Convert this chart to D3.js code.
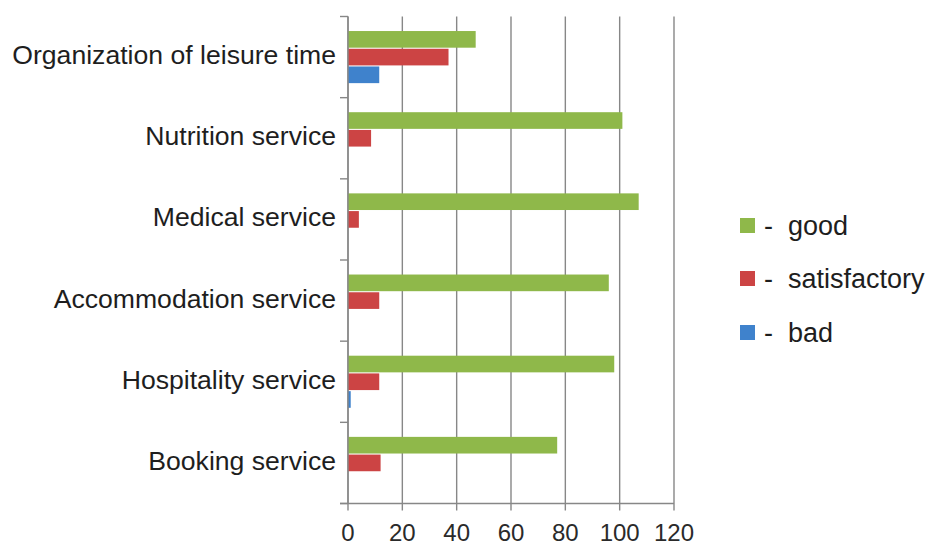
<!DOCTYPE html>
<html>
<head>
<meta charset="utf-8">
<script src="https://cdn.jsdelivr.net/npm/d3@7"></script>
<style>
  html, body { margin: 0; padding: 0; background: #fff; }
  svg { display: block; }
  text { font-family: "Liberation Sans", Arial, sans-serif; }
</style>
</head>
<body>
<svg id="chart" width="934" height="548"></svg>
<script>
// Service categories, top to bottom
const categories = [
  "Organization of leisure time",
  "Nutrition service",
  "Medical service",
  "Accommodation service",
  "Hospitality service",
  "Booking service"
];

// Ratings per category (number of respondents)
const good         = [47, 101, 107, 96, 98, 77];
const satisfactory = [37, 8.5, 4, 11.5, 11.5, 12];
const bad          = [11.5, 0, 0, 0, 1, 0];

const seriesNames  = ["good", "satisfactory", "bad"];
const seriesColors = ["#8fb84a", "#cc4444", "#3f82cc"];
const xTicks       = [0, 20, 40, 60, 80, 100, 120];

const seriesValues = [good, satisfactory, bad];
const rows = categories.map((c, i) => ({
  category: c,
  values: seriesNames.map((s, k) => ({ series: s, value: seriesValues[k][i] }))
}));

const svg = d3.select("#chart");
const plot = { left: 348, right: 674, top: 16.5, bottom: 503.5 };
const gridColor = "#878787";

const x = d3.scaleLinear().domain([0, 120]).range([plot.left, plot.right]);
const y0 = d3.scaleBand().domain(categories).range([plot.top, plot.bottom]).padding(0);
const y1 = d3.scaleBand().domain(seriesNames).range([0, y0.bandwidth()])
  .paddingInner(0.06).paddingOuter(0.82);
const color = d3.scaleOrdinal().domain(seriesNames).range(seriesColors);

// Vertical gridlines, extending a little below the axis as tick marks
svg.append("g").selectAll("line").data(xTicks).join("line")
  .attr("x1", d => x(d)).attr("x2", d => x(d))
  .attr("y1", plot.top).attr("y2", plot.bottom + 7)
  .attr("stroke", gridColor).attr("stroke-width", 1.4);

// Bars
const groups = svg.append("g").selectAll("g").data(rows).join("g")
  .attr("transform", d => `translate(0,${y0(d.category)})`);
groups.selectAll("rect").data(d => d.values).join("rect")
  .attr("x", x(0))
  .attr("y", d => y1(d.series))
  .attr("width", d => x(d.value) - x(0))
  .attr("height", y1.bandwidth())
  .attr("fill", d => color(d.series));

// Category axis (left) with ticks between bands
const yAxis = svg.append("g");
yAxis.append("line")
  .attr("x1", x(0)).attr("x2", x(0))
  .attr("y1", plot.top).attr("y2", plot.bottom)
  .attr("stroke", gridColor).attr("stroke-width", 1.4);
const boundaries = categories.map(c => y0(c)).concat([plot.bottom]);
yAxis.selectAll("line.tick").data(boundaries).join("line")
  .attr("class", "tick")
  .attr("x1", x(0) - 8).attr("x2", x(0))
  .attr("y1", d => d).attr("y2", d => d)
  .attr("stroke", gridColor).attr("stroke-width", 1.4);
yAxis.selectAll("text").data(categories).join("text")
  .attr("x", 336)
  .attr("y", d => y0(d) + y0.bandwidth() / 2 + 7)
  .attr("text-anchor", "end")
  .attr("font-size", 26.6)
  .attr("fill", "#1e1e1e")
  .text(d => d);

// Value axis (bottom)
svg.append("line")
  .attr("x1", x(0) - 8).attr("x2", x(120))
  .attr("y1", plot.bottom).attr("y2", plot.bottom)
  .attr("stroke", gridColor).attr("stroke-width", 1.4);
svg.append("g").selectAll("text").data(xTicks).join("text")
  .attr("x", d => x(d))
  .attr("y", 541)
  .attr("text-anchor", "middle")
  .attr("font-size", 24)
  .attr("fill", "#2a2a2a")
  .text(d => d);

// Legend
const legendY = [218, 271, 325];
const legend = svg.append("g").selectAll("g").data(seriesNames).join("g")
  .attr("transform", (d, i) => `translate(740,${legendY[i]})`);
legend.append("rect")
  .attr("width", 15).attr("height", 15)
  .attr("fill", d => color(d));
legend.append("text")
  .attr("x", 24).attr("y", 17)
  .attr("font-size", 27).attr("fill", "#1e1e1e")
  .text("-");
legend.append("text")
  .attr("x", 48).attr("y", 17)
  .attr("font-size", 27).attr("fill", "#1e1e1e")
  .text(d => d);
</script>
</body>
</html>
